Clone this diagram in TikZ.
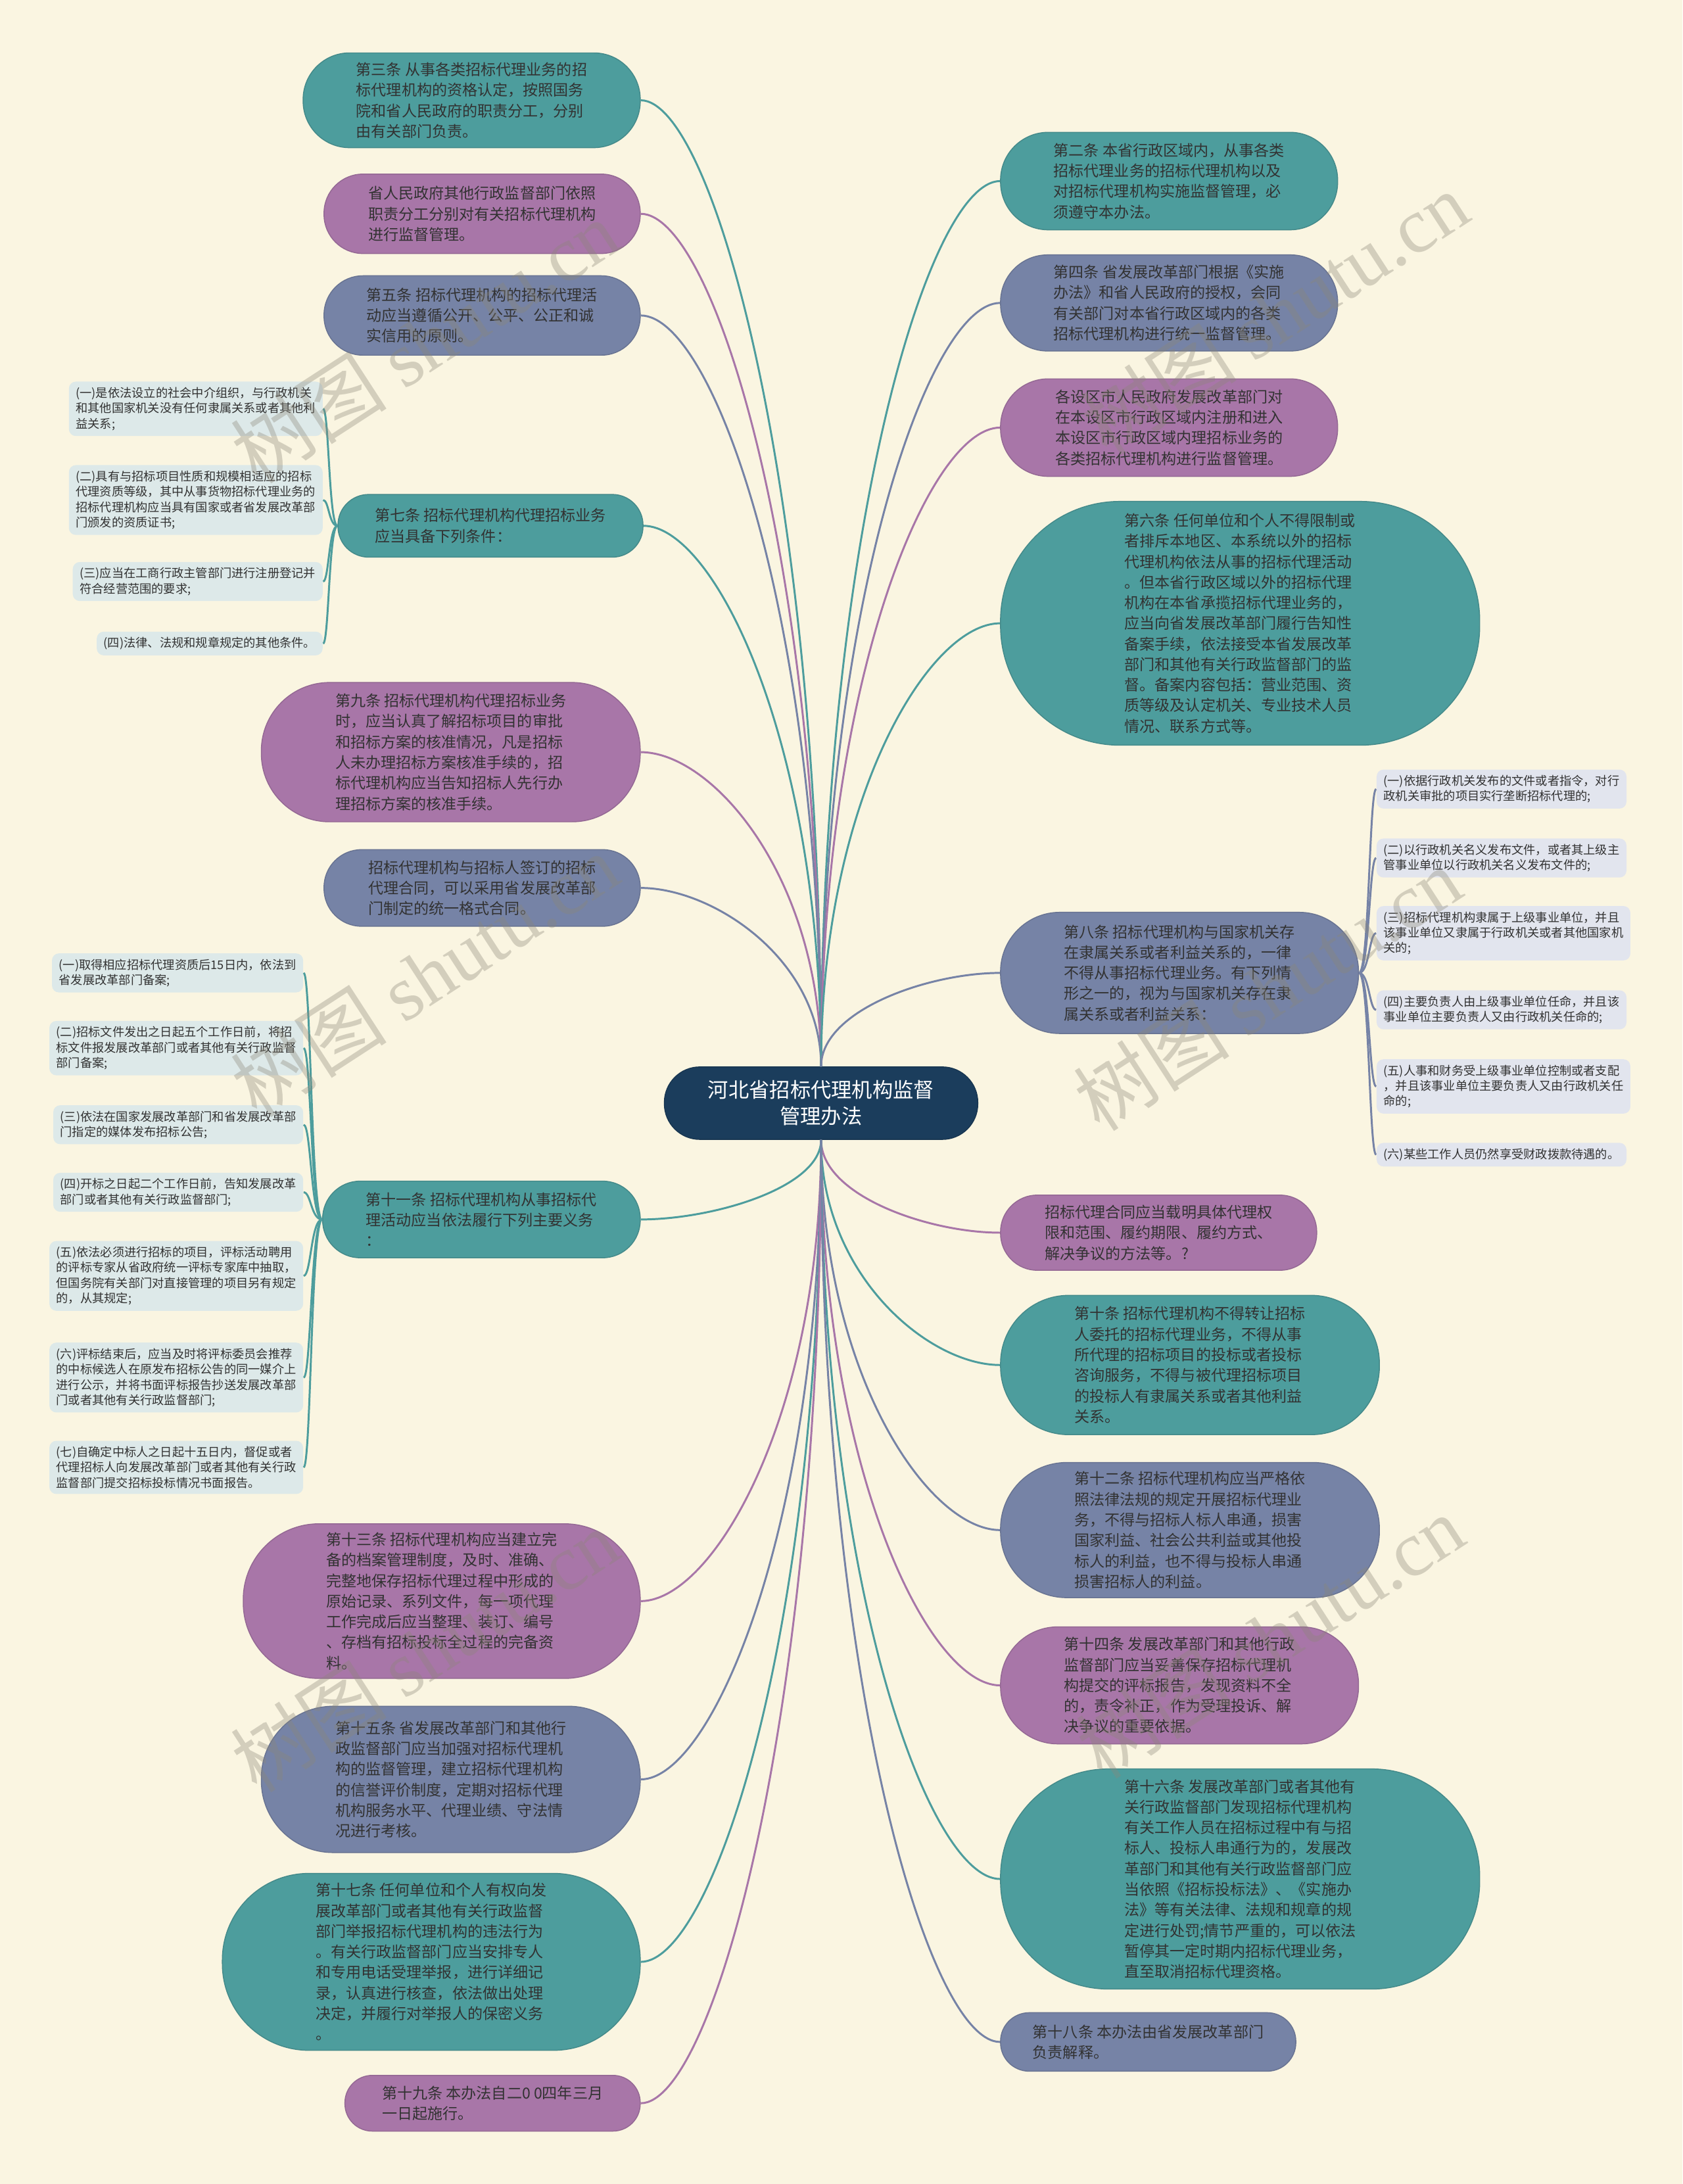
\documentclass[tikz,border=0pt]{standalone}
\usepackage{fontspec}
\setmainfont{Noto Sans CJK SC}
\newfontfamily\markfont{Liberation Serif}
\usetikzlibrary{calc}

\definecolor{papercream}{RGB}{250,245,225}
\definecolor{topicnavy}{RGB}{27,61,92}
\definecolor{lawteal}{RGB}{77,157,157}
\definecolor{lawpurple}{RGB}{168,118,168}
\definecolor{lawslate}{RGB}{118,131,166}
\definecolor{itemteal}{RGB}{221,233,233}
\definecolor{itemslate}{RGB}{226,229,238}
\definecolor{inkgrey}{RGB}{50,50,50}
\definecolor{markgrey}{RGB}{140,135,120}

\tikzset{
  lawnode/.style={rectangle, fill=#1, draw=#1!88!black, line width=0.4pt,
    text=inkgrey, align=left, inner sep=0pt,
    font={\fontsize{6.2pt}{8.4pt}\selectfont}},
  pillsize/.style 2 args={minimum width=#1*0.02cm, minimum height=#2*0.02cm,
    rounded corners=#2*0.0098cm},
  itembox/.style={rectangle, rounded corners=0.1cm, fill=#1, text=inkgrey, align=left,
    inner xsep=0.1cm, inner ysep=0.08cm, font={\fontsize{4.9pt}{6.3pt}\selectfont}},
  linkline/.style={draw=#1, line width=0.8pt},
  branchcurve/.style={to path={.. controls ($(\tikztostart)!0.6!(\tikztostart |- \tikztotarget)$)
    and ($(\tikztostart |- \tikztotarget)!0.6!(\tikztotarget)$) .. (\tikztotarget)}},
  twigcurve/.style={to path={.. controls ($(\tikztostart)!0.6!(\tikztostart -| \tikztotarget)$)
    and ($(\tikztotarget)!0.4!(\tikztotarget -| \tikztostart)$) .. (\tikztotarget)}},
  wmark/.style={rotate=33, text=markgrey, opacity=0.35, font={\fontsize{32pt}{32pt}\selectfont}}
}

\begin{document}
\begin{tikzpicture}[x=0.02cm, y=-0.02cm]
  % Page
  \useasboundingbox (0,0) rectangle (1208,1568);
  \fill[papercream] (0,0) rectangle (1208,1568);

  % Central topic
  \node[lawnode=topicnavy, pillsize={225}{52}, text=white, align=center,
    font={\fontsize{8.4pt}{10.8pt}\selectfont}] (ctr) at (589.5,792)
    {河北省招标代理机构监督\\管理办法};

  % Left articles
  \node[lawnode=lawteal, pillsize={242}{68}, anchor=east] (art3) at (460,72)
    {第三条 从事各类招标代理业务的招\\标代理机构的资格认定，按照国务\\院和省人民政府的职责分工，分别\\由有关部门负责。};
  \node[lawnode=lawpurple, pillsize={227}{57}, anchor=east] (prov) at (460,153.5)
    {省人民政府其他行政监督部门依照\\职责分工分别对有关招标代理机构\\进行监督管理。};
  \node[lawnode=lawslate, pillsize={227}{57}, anchor=east] (art5) at (460,226.5)
    {第五条 招标代理机构的招标代理活\\动应当遵循公开、公平、公正和诚\\实信用的原则。};
  \node[lawnode=lawteal, pillsize={219}{45}, anchor=east] (art7) at (462,377.5)
    {第七条 招标代理机构代理招标业务\\应当具备下列条件：};
  \node[lawnode=lawpurple, pillsize={272}{100}, anchor=east] (art9) at (460,540)
    {第九条 招标代理机构代理招标业务\\时，应当认真了解招标项目的审批\\和招标方案的核准情况，凡是招标\\人未办理招标方案核准手续的，招\\标代理机构应当告知招标人先行办\\理招标方案的核准手续。};
  \node[lawnode=lawslate, pillsize={227}{55}, anchor=east] (pact) at (460,637.5)
    {招标代理机构与招标人签订的招标\\代理合同，可以采用省发展改革部\\门制定的统一格式合同。};
  \node[lawnode=lawteal, pillsize={228}{55}, anchor=east] (art11) at (460,875.5)
    {第十一条 招标代理机构从事招标代\\理活动应当依法履行下列主要义务\\：};
  \node[lawnode=lawpurple, pillsize={285}{111}, anchor=east] (art13) at (460,1149.5)
    {第十三条 招标代理机构应当建立完\\备的档案管理制度，及时、准确、\\完整地保存招标代理过程中形成的\\原始记录、系列文件，每一项代理\\工作完成后应当整理、装订、编号\\、存档有招标投标全过程的完备资\\料。};
  \node[lawnode=lawslate, pillsize={272}{105}, anchor=east] (art15) at (460,1277.5)
    {第十五条 省发展改革部门和其他行\\政监督部门应当加强对招标代理机\\构的监督管理，建立招标代理机构\\的信誉评价制度，定期对招标代理\\机构服务水平、代理业绩、守法情\\况进行考核。};
  \node[lawnode=lawteal, pillsize={300}{127}, anchor=east] (art17) at (460,1408.5)
    {第十七条 任何单位和个人有权向发\\展改革部门或者其他有关行政监督\\部门举报招标代理机构的违法行为\\。有关行政监督部门应当安排专人\\和专用电话受理举报，进行详细记\\录，认真进行核查，依法做出处理\\决定，并履行对举报人的保密义务\\。};
  \node[lawnode=lawpurple, pillsize={212}{40}, anchor=east] (art19) at (460,1510)
    {第十九条 本办法自二0 0四年三月\\一日起施行。};

  % Right articles
  \node[lawnode=lawteal, pillsize={242}{70}, anchor=west] (art2) at (718,130)
    {第二条 本省行政区域内，从事各类\\招标代理业务的招标代理机构以及\\对招标代理机构实施监督管理，必\\须遵守本办法。};
  \node[lawnode=lawslate, pillsize={242}{69}, anchor=west] (art4) at (718,217.5)
    {第四条 省发展改革部门根据《实施\\办法》和省人民政府的授权，会同\\有关部门对本省行政区域内的各类\\招标代理机构进行统一监督管理。};
  \node[lawnode=lawpurple, pillsize={242}{70}, anchor=west] (city) at (718,307)
    {各设区市人民政府发展改革部门对\\在本设区市行政区域内注册和进入\\本设区市行政区域内理招标业务的\\各类招标代理机构进行监督管理。};
  \node[lawnode=lawteal, pillsize={344}{175}, anchor=west] (art6) at (718,447.5)
    {第六条 任何单位和个人不得限制或\\者排斥本地区、本系统以外的招标\\代理机构依法从事的招标代理活动\\。但本省行政区域以外的招标代理\\机构在本省承揽招标代理业务的，\\应当向省发展改革部门履行告知性\\备案手续，依法接受本省发展改革\\部门和其他有关行政监督部门的监\\督。备案内容包括：营业范围、资\\质等级及认定机关、专业技术人员\\情况、联系方式等。};
  \node[lawnode=lawslate, pillsize={257}{87}, anchor=west] (art8) at (718,698.5)
    {第八条 招标代理机构与国家机关存\\在隶属关系或者利益关系的，一律\\不得从事招标代理业务。有下列情\\形之一的，视为与国家机关存在隶\\属关系或者利益关系：};
  \node[lawnode=lawpurple, pillsize={227}{54}, anchor=west] (deal) at (718,885)
    {招标代理合同应当载明具体代理权\\限和范围、履约期限、履约方式、\\解决争议的方法等。?};
  \node[lawnode=lawteal, pillsize={272}{100}, anchor=west] (art10) at (718,980)
    {第十条 招标代理机构不得转让招标\\人委托的招标代理业务，不得从事\\所代理的招标项目的投标或者投标\\咨询服务，不得与被代理招标项目\\的投标人有隶属关系或者其他利益\\关系。};
  \node[lawnode=lawslate, pillsize={272}{97}, anchor=west] (art12) at (718,1098.5)
    {第十二条 招标代理机构应当严格依\\照法律法规的规定开展招标代理业\\务，不得与招标人标人串通，损害\\国家利益、社会公共利益或其他投\\标人的利益，也不得与投标人串通\\损害招标人的利益。};
  \node[lawnode=lawpurple, pillsize={257}{84}, anchor=west] (art14) at (718,1210)
    {第十四条 发展改革部门和其他行政\\监督部门应当妥善保存招标代理机\\构提交的评标报告，发现资料不全\\的，责令补正，作为受理投诉、解\\决争议的重要依据。};
  \node[lawnode=lawteal, pillsize={344}{158}, anchor=west] (art16) at (718,1349)
    {第十六条 发展改革部门或者其他有\\关行政监督部门发现招标代理机构\\有关工作人员在招标过程中有与招\\标人、投标人串通行为的，发展改\\革部门和其他有关行政监督部门应\\当依照《招标投标法》、《实施办\\法》等有关法律、法规和规章的规\\定进行处罚;情节严重的，可以依法\\暂停其一定时期内招标代理业务，\\直至取消招标代理资格。};
  \node[lawnode=lawslate, pillsize={212}{42}, anchor=west] (art18) at (718,1466)
    {第十八条 本办法由省发展改革部门\\负责解释。};

  % Items of article 7
  \node[itembox=itemteal, anchor=east] (c7a) at (232,293.5)
    {(一)是依法设立的社会中介组织，与行政机关\\和其他国家机关没有任何隶属关系或者其他利\\益关系;};
  \node[itembox=itemteal, anchor=east] (c7b) at (232,359)
    {(二)具有与招标项目性质和规模相适应的招标\\代理资质等级，其中从事货物招标代理业务的\\招标代理机构应当具有国家或者省发展改革部\\门颁发的资质证书;};
  \node[itembox=itemteal, anchor=east] (c7c) at (232,417.5)
    {(三)应当在工商行政主管部门进行注册登记并\\符合经营范围的要求;};
  \node[itembox=itemteal, anchor=east] (c7d) at (232,462)
    {(四)法律、法规和规章规定的其他条件。};

  % Items of article 11
  \node[itembox=itemteal, anchor=east] (c11a) at (218,698.5)
    {(一)取得相应招标代理资质后15日内，依法到\\省发展改革部门备案;};
  \node[itembox=itemteal, anchor=east] (c11b) at (218,752.5)
    {(二)招标文件发出之日起五个工作日前，将招\\标文件报发展改革部门或者其他有关行政监督\\部门备案;};
  \node[itembox=itemteal, anchor=east] (c11c) at (218,807.5)
    {(三)依法在国家发展改革部门和省发展改革部\\门指定的媒体发布招标公告;};
  \node[itembox=itemteal, anchor=east] (c11d) at (218,856)
    {(四)开标之日起二个工作日前，告知发展改革\\部门或者其他有关行政监督部门;};
  \node[itembox=itemteal, anchor=east] (c11e) at (218,916)
    {(五)依法必须进行招标的项目，评标活动聘用\\的评标专家从省政府统一评标专家库中抽取，\\但国务院有关部门对直接管理的项目另有规定\\的，从其规定;};
  \node[itembox=itemteal, anchor=east] (c11f) at (218,989)
    {(六)评标结束后，应当及时将评标委员会推荐\\的中标候选人在原发布招标公告的同一媒介上\\进行公示，并将书面评标报告抄送发展改革部\\门或者其他有关行政监督部门;};
  \node[itembox=itemteal, anchor=east] (c11g) at (218,1053.5)
    {(七)自确定中标人之日起十五日内，督促或者\\代理招标人向发展改革部门或者其他有关行政\\监督部门提交招标投标情况书面报告。};

  % Items of article 8
  \node[itembox=itemslate, anchor=west] (c8a) at (988,566.5)
    {(一)依据行政机关发布的文件或者指令，对行\\政机关审批的项目实行垄断招标代理的;};
  \node[itembox=itemslate, anchor=west] (c8b) at (988,616)
    {(二)以行政机关名义发布文件，或者其上级主\\管事业单位以行政机关名义发布文件的;};
  \node[itembox=itemslate, anchor=west] (c8c) at (988,670)
    {(三)招标代理机构隶属于上级事业单位，并且\\该事业单位又隶属于行政机关或者其他国家机\\关的;};
  \node[itembox=itemslate, anchor=west] (c8d) at (988,725)
    {(四)主要负责人由上级事业单位任命，并且该\\事业单位主要负责人又由行政机关任命的;};
  \node[itembox=itemslate, anchor=west] (c8e) at (988,780)
    {(五)人事和财务受上级事业单位控制或者支配\\，并且该事业单位主要负责人又由行政机关任\\命的;};
  \node[itembox=itemslate, anchor=west] (c8f) at (988,829)
    {(六)某些工作人员仍然享受财政拨款待遇的。};

  % Branches, left side
  \draw[linkline=lawteal] (ctr.north) to[branchcurve] (art3.east);
  \draw[linkline=lawpurple] (ctr.north) to[branchcurve] (prov.east);
  \draw[linkline=lawslate] (ctr.north) to[branchcurve] (art5.east);
  \draw[linkline=lawteal] (ctr.north) to[branchcurve] (art7.east);
  \draw[linkline=lawpurple] (ctr.north) to[branchcurve] (art9.east);
  \draw[linkline=lawslate] (ctr.north) to[branchcurve] (pact.east);
  \draw[linkline=lawteal] (ctr.south) to[branchcurve] (art11.east);
  \draw[linkline=lawpurple] (ctr.south) to[branchcurve] (art13.east);
  \draw[linkline=lawslate] (ctr.south) to[branchcurve] (art15.east);
  \draw[linkline=lawteal] (ctr.south) to[branchcurve] (art17.east);
  \draw[linkline=lawpurple] (ctr.south) to[branchcurve] (art19.east);

  % Branches, right side
  \draw[linkline=lawteal] (ctr.north) to[branchcurve] (art2.west);
  \draw[linkline=lawslate] (ctr.north) to[branchcurve] (art4.west);
  \draw[linkline=lawpurple] (ctr.north) to[branchcurve] (city.west);
  \draw[linkline=lawteal] (ctr.north) to[branchcurve] (art6.west);
  \draw[linkline=lawslate] (ctr.north) to[branchcurve] (art8.west);
  \draw[linkline=lawpurple] (ctr.south) to[branchcurve] (deal.west);
  \draw[linkline=lawteal] (ctr.south) to[branchcurve] (art10.west);
  \draw[linkline=lawslate] (ctr.south) to[branchcurve] (art12.west);
  \draw[linkline=lawpurple] (ctr.south) to[branchcurve] (art14.west);
  \draw[linkline=lawteal] (ctr.south) to[branchcurve] (art16.west);
  \draw[linkline=lawslate] (ctr.south) to[branchcurve] (art18.west);

  % Twigs to the items
  \draw[linkline=lawteal] (art7.west) to[twigcurve] (c7a.east);
  \draw[linkline=lawteal] (art7.west) to[twigcurve] (c7b.east);
  \draw[linkline=lawteal] (art7.west) to[twigcurve] (c7c.east);
  \draw[linkline=lawteal] (art7.west) to[twigcurve] (c7d.east);
  \draw[linkline=lawteal] (art11.west) to[twigcurve] (c11a.east);
  \draw[linkline=lawteal] (art11.west) to[twigcurve] (c11b.east);
  \draw[linkline=lawteal] (art11.west) to[twigcurve] (c11c.east);
  \draw[linkline=lawteal] (art11.west) to[twigcurve] (c11d.east);
  \draw[linkline=lawteal] (art11.west) to[twigcurve] (c11e.east);
  \draw[linkline=lawteal] (art11.west) to[twigcurve] (c11f.east);
  \draw[linkline=lawteal] (art11.west) to[twigcurve] (c11g.east);
  \draw[linkline=lawslate] (art8.east) to[twigcurve] (c8a.west);
  \draw[linkline=lawslate] (art8.east) to[twigcurve] (c8b.west);
  \draw[linkline=lawslate] (art8.east) to[twigcurve] (c8c.west);
  \draw[linkline=lawslate] (art8.east) to[twigcurve] (c8d.west);
  \draw[linkline=lawslate] (art8.east) to[twigcurve] (c8e.west);
  \draw[linkline=lawslate] (art8.east) to[twigcurve] (c8f.west);

  % Watermarks
  \node[wmark] (wm1) at (305,245) {树图 {\markfont shutu.cn}};
  \node[wmark] (wm2) at (915,225) {树图 {\markfont shutu.cn}};
  \node[wmark] (wm3) at (305,700) {树图 {\markfont shutu.cn}};
  \node[wmark] (wm4) at (910,710) {树图 {\markfont shutu.cn}};
  \node[wmark] (wm5) at (305,1185) {树图 {\markfont shutu.cn}};
  \node[wmark] (wm6) at (912,1175) {树图 {\markfont shutu.cn}};
\end{tikzpicture}
\end{document}
